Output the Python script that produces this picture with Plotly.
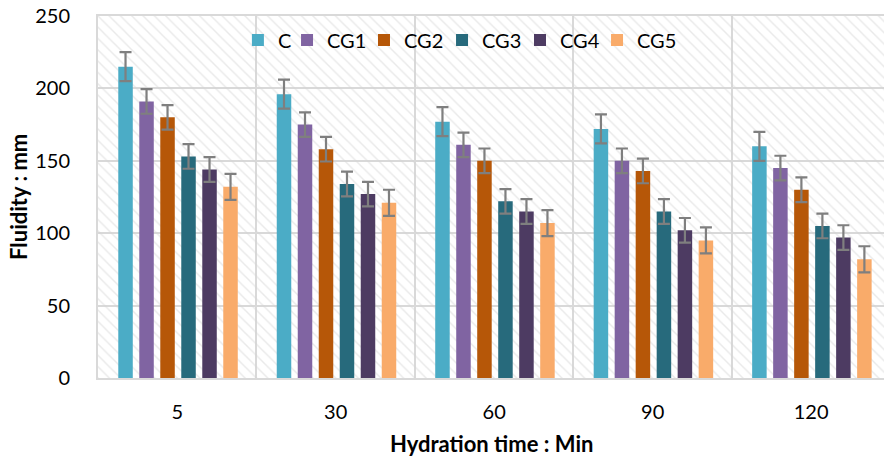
import plotly.graph_objects as go

categories = ["5", "30", "60", "90", "120"]
series_names = ["C", "CG1", "CG2", "CG3", "CG4", "CG5"]
C = [215, 196, 177, 172, 160]
CG1 = [191, 175, 161, 150, 145]
CG2 = [180, 158, 150, 143, 130]
CG3 = [153, 134, 122, 115, 105]
CG4 = [144, 127, 115, 102, 97]
CG5 = [132, 121, 107, 95, 82]
errors = [10, 8.5, 8.5, 8.5, 8.5, 9]
colors = ["#4BACC6", "#8064A2", "#B65708", "#276A7C", "#4D3B62", "#F9AB6A"]
y_max = 250

values = [C, CG1, CG2, CG3, CG4, CG5]
FONT = "Lato"
legend_x = [0.178, 0.2405, 0.3384, 0.4377, 0.5369, 0.6349]

fig = go.Figure()

# hatched plot background
fig.add_trace(go.Bar(
    x=categories, y=[y_max] * len(categories), width=1, offset=-0.5,
    marker=dict(color="rgba(0,0,0,0)", line=dict(width=0),
                pattern=dict(shape="\\", fgcolor="#d4d4d4", bgcolor="rgba(0,0,0,0)",
                             size=8, solidity=0.18)),
    showlegend=False, hoverinfo="skip"))

slot = 0.1325
bw = 0.0915
first = -0.372
legend_layout = {}
for i, (name, vals) in enumerate(zip(series_names, values)):
    lname = "legend" if i == 0 else f"legend{i + 1}"
    fig.add_trace(go.Bar(
        name=name, x=categories, y=vals,
        width=bw, offset=first + i * slot,
        marker=dict(color=colors[i], line=dict(width=0)),
        error_y=dict(type="constant", value=errors[i], color="#7F7F7F",
                     thickness=2.2, width=6),
        legend=lname,
    ))
    legend_layout[lname] = dict(
        orientation="h", x=legend_x[i], xanchor="left", y=0.934, yanchor="middle",
        bgcolor="rgba(0,0,0,0)", font=dict(size=20), itemwidth=30)

fig.update_layout(
    width=884, height=461,
    margin=dict(l=98, r=0, t=16, b=83),
    barmode="overlay",
    paper_bgcolor="white", plot_bgcolor="white",
    font=dict(family=FONT, size=20, color="#000000"),
    showlegend=True,
    **legend_layout,
)
fig.update_xaxes(
    type="category", range=[-0.5, 4.46],
    tickson="boundaries", showgrid=True, gridcolor="#D9D9D9", gridwidth=2,
    showline=True, linecolor="#D9D9D9", linewidth=2, mirror=True,
    ticks="", ticklabelstandoff=15, tickfont=dict(size=20),
)
fig.update_yaxes(
    range=[0, y_max], tick0=0, dtick=50,
    showgrid=True, gridcolor="#D9D9D9", gridwidth=2, zeroline=False,
    showline=True, linecolor="#D9D9D9", linewidth=2,
    ticks="", ticklabelstandoff=22, tickfont=dict(size=20),
)
fig.add_annotation(text="<b>Fluidity : mm</b>", xref="paper", yref="paper",
                   x=-0.1018, y=0.5, textangle=-90, showarrow=False,
                   xanchor="center", yanchor="middle", font=dict(size=22))
fig.add_annotation(text="<b>Hydration time : Min</b>", xref="paper", yref="paper",
                   x=0.5, y=-0.1796, showarrow=False,
                   xanchor="center", yanchor="middle", font=dict(size=22))

fig.write_html("out.html")
